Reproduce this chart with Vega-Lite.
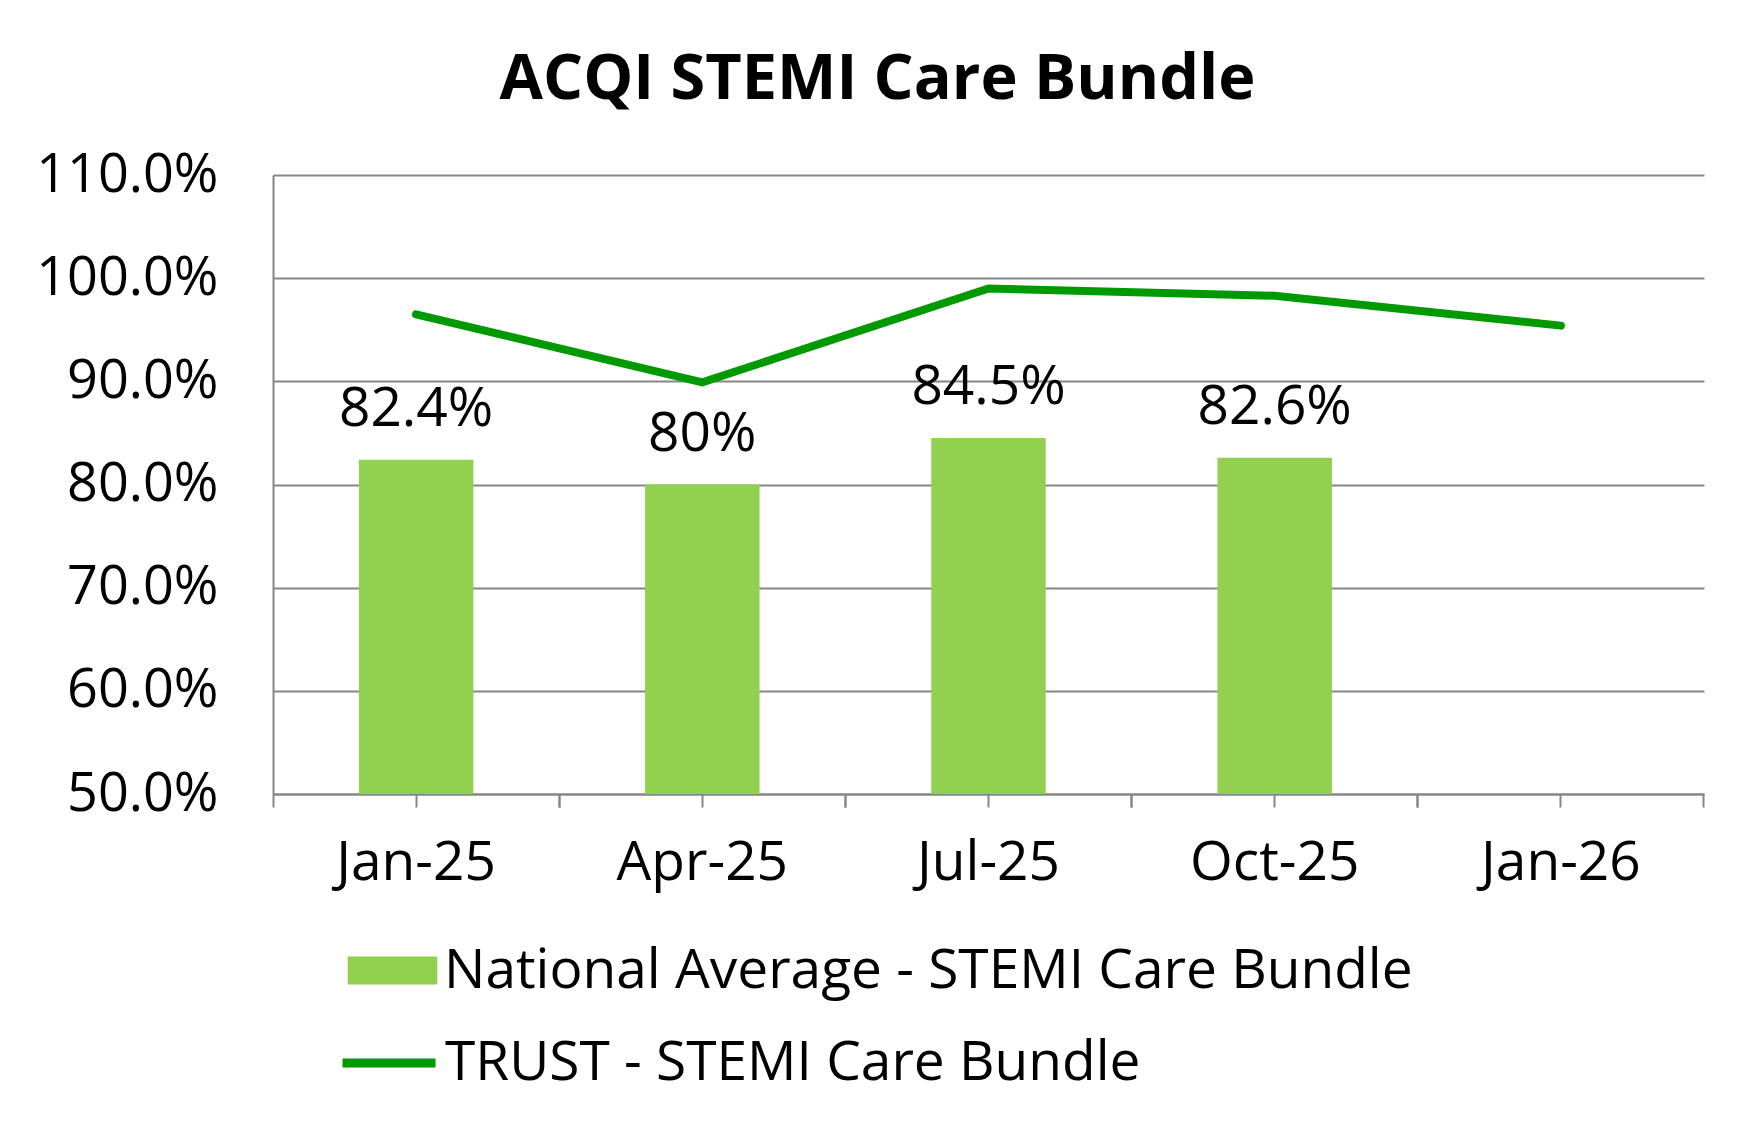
{
  "$schema": "https://vega.github.io/schema/vega-lite/v6.json",
  "width": 1431,
  "height": 619,
  "autosize": {"type": "none"},
  "padding": {"left": 273, "top": 175, "right": 52, "bottom": 336},
  "background": "#ffffff",
  "config": {
    "font": "Open Sans",
    "view": {"stroke": null},
    "axis": {"labelColor": "#000000", "labelFont": "Open Sans", "labelLimit": 500},
    "legend": {"padding": 0, "labelFont": "Open Sans", "labelColor": "#000000"}
  },
  "title": {
    "text": "ACQI STEMI Care Bundle",
    "font": "Open Sans",
    "fontSize": 63,
    "fontWeight": "bold",
    "color": "#000000",
    "anchor": "middle",
    "frame": "group",
    "dx": -111,
    "offset": 36
  },
  "data": {
    "values": [
      {"month": "Jan-25", "national": 0.824, "trust": 0.965},
      {"month": "Apr-25", "national": 0.80, "trust": 0.899},
      {"month": "Jul-25", "national": 0.845, "trust": 0.990},
      {"month": "Oct-25", "national": 0.826, "trust": 0.983},
      {"month": "Jan-26", "national": null, "trust": 0.954}
    ]
  },
  "resolve": {"axis": {"x": "independent"}},
  "layer": [
    {
      "transform": [{"filter": "datum.national != null"}],
      "mark": {"type": "bar", "fill": "#92D050"},
      "encoding": {
        "x": {
          "field": "month",
          "type": "nominal",
          "sort": null,
          "scale": {"domain": ["Jan-25", "Apr-25", "Jul-25", "Oct-25", "Jan-26"], "paddingInner": 0.6, "paddingOuter": 0.3},
          "axis": {
            "title": null,
            "orient": "bottom",
            "labelAngle": 0,
            "labelFontSize": 55,
            "labelPadding": 29,
            "tickSize": 13,
            "tickWidth": 2,
            "tickColor": "#868686",
            "domainColor": "#868686",
            "domainWidth": 2,
            "grid": false
          }
        },
        "y": {
          "field": "national",
          "type": "quantitative",
          "scale": {"domain": [0.5, 1.1], "zero": false, "nice": false},
          "axis": {
            "title": null,
            "values": [0.5, 0.6, 0.7, 0.8, 0.9, 1.0, 1.1],
            "format": ".1%",
            "labelFontSize": 54,
            "labelPadding": 55,
            "labelLimit": 500,
            "ticks": false,
            "grid": true,
            "gridColor": "#868686",
            "gridWidth": 2,
            "domainColor": "#868686",
            "domainWidth": 2
          }
        },
        "y2": {"datum": 0.5},
        "fill": {
          "datum": "National Average - STEMI Care Bundle",
          "scale": {"range": ["#92D050"]},
          "legend": {
            "title": null,
            "orient": "none",
            "legendX": 92,
            "legendY": 768,
            "symbolType": "M-3.2,-1H3.2V1H-3.2Z",
            "symbolSize": 784,
            "symbolStrokeWidth": 0,
            "symbolOpacity": 1,
            "labelFontSize": 55,
            "labelOffset": 24,
            "labelLimit": 1200
          }
        }
      }
    },
    {
      "transform": [{"filter": "datum.national != null"}],
      "mark": {"type": "text", "fontSize": 55, "baseline": "alphabetic", "dy": -34, "color": "#000000", "font": "Open Sans"},
      "encoding": {
        "x": {
          "field": "month",
          "type": "nominal",
          "sort": null,
          "axis": {
            "title": null,
            "orient": "bottom",
            "bandPosition": 1.75,
            "labels": false,
            "domain": false,
            "grid": false,
            "tickSize": 13,
            "tickWidth": 2,
            "tickColor": "#868686"
          }
        },
        "y": {
          "field": "national",
          "type": "quantitative",
          "axis": {
            "title": null,
            "values": [0.5, 0.6, 0.7, 0.8, 0.9, 1.0, 1.1],
            "format": ".1%",
            "labelFontSize": 54,
            "labelPadding": 55,
            "labelLimit": 500,
            "ticks": false,
            "grid": true,
            "gridColor": "#868686",
            "gridWidth": 2,
            "domainColor": "#868686",
            "domainWidth": 2
          }
        },
        "text": {"field": "national", "type": "quantitative", "format": ".1~%"}
      }
    },
    {
      "mark": {"type": "line", "strokeWidth": 8, "strokeCap": "round", "strokeJoin": "miter"},
      "encoding": {
        "x": {
          "field": "month",
          "type": "nominal",
          "sort": null,
          "axis": {
            "title": null,
            "orient": "bottom",
            "bandPosition": -0.75,
            "labels": false,
            "domain": false,
            "grid": false,
            "tickSize": 13,
            "tickWidth": 2,
            "tickColor": "#868686"
          }
        },
        "y": {
          "field": "trust",
          "type": "quantitative",
          "axis": {
            "title": null,
            "values": [0.5, 0.6, 0.7, 0.8, 0.9, 1.0, 1.1],
            "format": ".1%",
            "labelFontSize": 54,
            "labelPadding": 55,
            "labelLimit": 500,
            "ticks": false,
            "grid": true,
            "gridColor": "#868686",
            "gridWidth": 2,
            "domainColor": "#868686",
            "domainWidth": 2
          }
        },
        "stroke": {
          "datum": "TRUST - STEMI Care Bundle",
          "scale": {"range": ["#009900"]},
          "legend": {
            "title": null,
            "orient": "none",
            "legendX": 65,
            "legendY": 837,
            "symbolType": "stroke",
            "symbolSize": 8649,
            "symbolStrokeWidth": 9,
            "labelFontSize": 55,
            "labelOffset": 5,
            "labelLimit": 1200
          }
        }
      }
    }
  ]
}
